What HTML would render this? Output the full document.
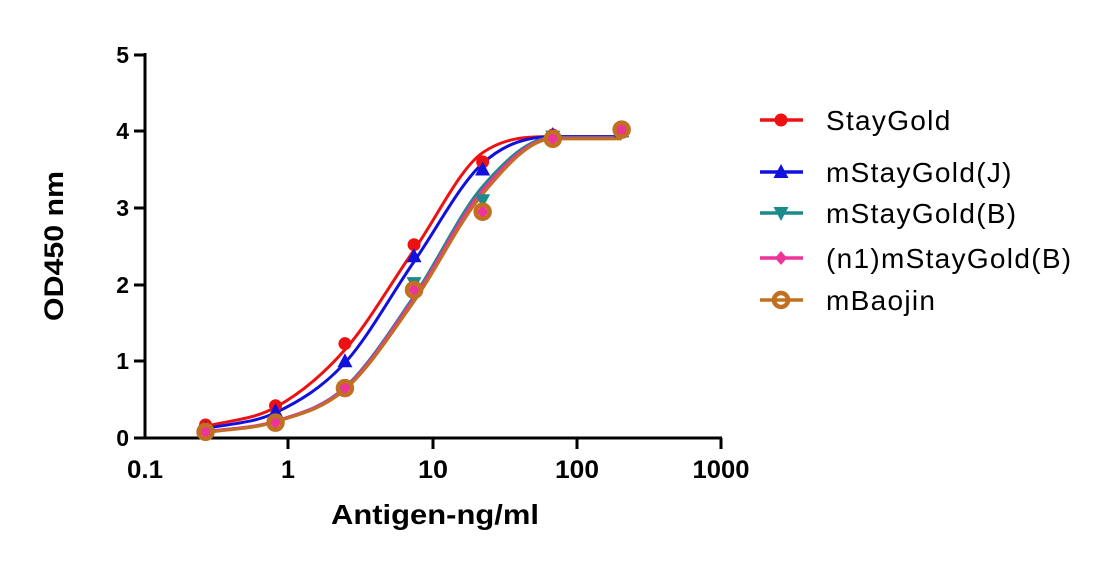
<!DOCTYPE html>
<html><head><meta charset="utf-8"><style>
body{margin:0;background:#fff;}
svg text{font-family:"Liberation Sans",Arial,sans-serif;}
</style></head><body>
<svg id="s" width="1108" height="558" xmlns="http://www.w3.org/2000/svg">
<g stroke="#000" stroke-width="3" fill="none">
<line x1="145" y1="53" x2="145" y2="439"/>
<line x1="143" y1="438" x2="722" y2="438"/>
<line x1="134" y1="55" x2="145" y2="55"/>
<line x1="134" y1="131" x2="145" y2="131"/>
<line x1="134" y1="208" x2="145" y2="208"/>
<line x1="134" y1="285" x2="145" y2="285"/>
<line x1="134" y1="361" x2="145" y2="361"/>
<line x1="134" y1="438" x2="145" y2="438"/>
<line x1="288" y1="438" x2="288" y2="449"/>
<line x1="433" y1="438" x2="433" y2="449"/>
<line x1="577" y1="438" x2="577" y2="449"/>
<line x1="721" y1="438" x2="721" y2="449"/>
</g>
<g font-size="23" font-weight="bold" text-anchor="end">
<text x="129" y="63">5</text><text x="129" y="139">4</text><text x="129" y="216">3</text>
<text x="129" y="293">2</text><text x="129" y="369">1</text><text x="129" y="446">0</text>
</g>
<g font-size="25" font-weight="bold" text-anchor="middle">
<text x="145" y="478" textLength="36" lengthAdjust="spacingAndGlyphs">0.1</text>
<text x="288" y="478">1</text>
<text x="433" y="478" textLength="30" lengthAdjust="spacingAndGlyphs">10</text>
<text x="577" y="478" textLength="44" lengthAdjust="spacingAndGlyphs">100</text>
<text x="721" y="478" textLength="57" lengthAdjust="spacingAndGlyphs">1000</text>
</g>
<text x="435" y="524" font-size="28" font-weight="bold" text-anchor="middle" textLength="208" lengthAdjust="spacingAndGlyphs">Antigen-ng/ml</text>
<text transform="translate(63,246) rotate(-90)" font-size="27" font-weight="bold" text-anchor="middle" textLength="150" lengthAdjust="spacingAndGlyphs">OD450 nm</text>
<g id="plot"></g>
<g id="leg" font-size="28" letter-spacing="1.3"></g>
</svg>
<script>
var X=function(v){return 143+145*(Math.log10(v)+1);};
var Y=function(v){return 438-76.7*v;};
var xs=[0.27,0.82,2.47,7.4,22,67,200];
var S=[
{c:'#ee1111',m:'c',d:[0.17,0.42,1.23,2.52,3.6,3.95,4.0],k:[0.15,0.40,1.15,2.45,3.72,3.93,3.93],n:'StayGold'},
{c:'#1111dd',m:'t',d:[0.12,0.35,1.0,2.37,3.5,3.95,4.0],k:[0.12,0.33,0.98,2.3,3.58,3.93,3.93],n:'mStayGold(J)'},
{c:'#1a8a8a',m:'v',d:[0.08,0.2,0.65,2.02,3.1,3.93,4.02],k:[0.08,0.22,0.66,1.85,3.28,3.92,3.92],n:'mStayGold(B)'},
{c:'#ee3399',m:'d',d:[0.08,0.2,0.65,1.93,2.95,3.9,4.02],k:[0.08,0.22,0.65,1.82,3.23,3.91,3.91],n:'(n1)mStayGold(B)'},
{c:'#c07020',m:'o',d:[0.08,0.2,0.65,1.93,2.95,3.9,4.02],k:[0.07,0.21,0.63,1.78,3.18,3.9,3.9],n:'mBaojin'}];
var ns='http://www.w3.org/2000/svg';
function el(p,t,a){var e=document.createElementNS(ns,t);for(var k in a)e.setAttribute(k,a[k]);p.appendChild(e);return e;}
function mk(g,m,x,y,c){
 if(m=='c')el(g,'circle',{cx:x,cy:y,r:6.5,fill:c});
 else if(m=='t')el(g,'polygon',{points:(x)+','+(y-8)+' '+(x-7.5)+','+(y+6)+' '+(x+7.5)+','+(y+6),fill:c});
 else if(m=='v')el(g,'polygon',{points:(x)+','+(y+8)+' '+(x-7.5)+','+(y-6)+' '+(x+7.5)+','+(y-6),fill:c});
 else if(m=='d')el(g,'polygon',{points:(x)+','+(y-7)+' '+(x+6)+','+y+' '+x+','+(y+7)+' '+(x-6)+','+y,fill:c});
 else {el(g,'circle',{cx:x,cy:y,r:7,fill:'none',stroke:c,'stroke-width':4.5});}
}
function mono(px,py){
 var n=px.length,dl=[],m=[];
 for(var i=0;i<n-1;i++)dl.push((py[i+1]-py[i])/(px[i+1]-px[i]));
 m[0]=dl[0];m[n-1]=dl[n-2];
 for(i=1;i<n-1;i++)m[i]=(dl[i-1]*dl[i]<=0)?0:(dl[i-1]+dl[i])/2;
 for(i=0;i<n-1;i++){if(dl[i]==0){m[i]=0;m[i+1]=0;continue;}var a=m[i]/dl[i],b=m[i+1]/dl[i],t=a*a+b*b;if(t>9){var s=3/Math.sqrt(t);m[i]=s*a*dl[i];m[i+1]=s*b*dl[i];}}
 var d='M'+px[0]+','+py[0];
 for(i=0;i<n-1;i++){var h=(px[i+1]-px[i])/3;d+='C'+(px[i]+h)+','+(py[i]+m[i]*h)+' '+(px[i+1]-h)+','+(py[i+1]-m[i+1]*h)+' '+px[i+1]+','+py[i+1];}
 return d;
}
var P=document.getElementById('plot'),L=document.getElementById('leg');
S.forEach(function(s){
 var px=xs.map(X),py=s.k.map(Y);
 el(P,'path',{d:mono(px,py),fill:'none',stroke:s.c,'stroke-width':3});
});
S.forEach(function(s){s.d.forEach(function(v,i){mk(P,s.m,X(xs[i]),Y(v),s.c);});});
var ly=[120,172,213,258,300];
S.forEach(function(s,i){
 el(L,'line',{x1:760,y1:ly[i],x2:803,y2:ly[i],stroke:s.c,'stroke-width':3.5});
 mk(L,s.m,781,ly[i],s.c);
 var t=el(L,'text',{x:826,y:ly[i]+10});t.textContent=s.n;
});
</script>
</body></html>
